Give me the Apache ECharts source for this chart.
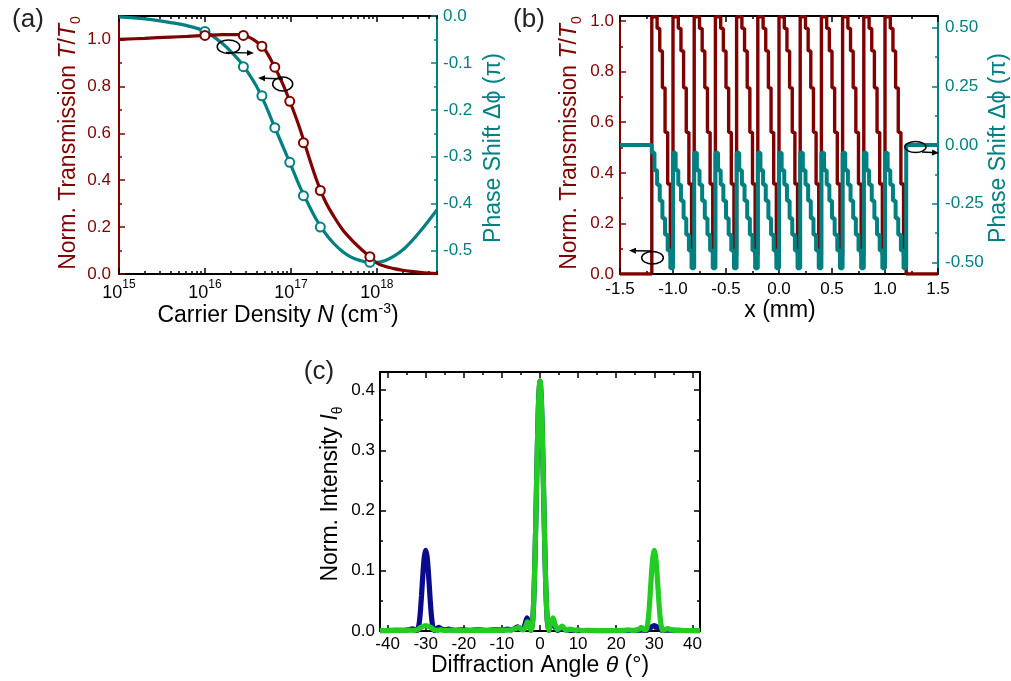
<!DOCTYPE html>
<html><head><meta charset="utf-8">
<script src="https://cdn.jsdelivr.net/npm/echarts@6/dist/echarts.min.js"></script>
<style>html,body{margin:0;padding:0;background:#fff}#c{width:1011px;height:681px}</style>
</head><body><div id="c"></div>
<script>
// ---------- Panel (a) data ----------
const aMarkerN   = [1.0e16, 2.8e16, 4.6e16, 6.5e16, 9.7e16, 1.4e17, 2.2e17, 8.3e17];
const aMarkerT   = [1.017, 1.017, 0.971, 0.882, 0.736, 0.560, 0.356, 0.074];
const aMarkerPhi = [-0.033, -0.108, -0.170, -0.238, -0.312, -0.383, -0.450, -0.525];
const aCurveLogN = [15.0,15.3,15.6,15.8,16.0,16.2,16.4,16.5,16.6,16.7,16.8,16.9,17.0,17.1,17.2,17.3,17.4,17.5,17.6,17.7,17.8,17.9,18.0,18.1,18.2,18.3,18.4,18.5,18.6,18.7];
const aCurveT    = [1.000,1.005,1.010,1.013,1.017,1.021,1.021,1.012,0.990,0.955,0.890,0.815,0.725,0.625,0.510,0.400,0.310,0.245,0.190,0.148,0.112,0.080,0.047,0.032,0.023,0.016,0.011,0.007,0.004,0.002];
const aCurvePhi  = [-0.002,-0.006,-0.014,-0.021,-0.033,-0.058,-0.095,-0.120,-0.150,-0.188,-0.232,-0.275,-0.318,-0.362,-0.400,-0.435,-0.463,-0.485,-0.502,-0.514,-0.521,-0.525,-0.525,-0.521,-0.512,-0.499,-0.481,-0.460,-0.437,-0.413];
const aXMajor = [15, 16, 17, 18];
const aLeftTicks = [0, 0.2, 0.4, 0.6, 0.8, 1.0];
const aLeftMinor = [0.1, 0.3, 0.5, 0.7, 0.9];
const aRightTicks = [-0.5, -0.4, -0.3, -0.2, -0.1, 0];
const aRightMinor = [-0.45, -0.35, -0.25, -0.15, -0.05];

// ---------- Panel (b) data ----------
const bPeriodStarts = [-1.2,-1.0,-0.8,-0.6,-0.4,-0.2,0.0,0.2,0.4,0.6,0.8,1.0];
const bStepWidth = 0.025;          // 8 discrete levels per 0.2 mm period
const bLevelsT = aMarkerT;         // the same 8 carrier-density levels
const bLevelsPhi = aMarkerPhi;
const bGratingEnd = 1.2;
const bXTicks = [-1.5,-1.0,-0.5,0,0.5,1.0,1.5];
const bXMinor = [-1.25,-0.75,-0.25,0.25,0.75,1.25];
const bLeftTicks = [0, 0.2, 0.4, 0.6, 0.8, 1.0];
const bLeftMinor = [0.1, 0.3, 0.5, 0.7, 0.9];
const bRightTicks = [-0.5, -0.25, 0, 0.25, 0.5];
const bRightMinor = [-0.375, -0.125, 0.125, 0.375];

// ---------- Panel (c) data ----------
const cGreen = [[-42,0.0005],[-38,0.001],[-36,0.0008],[-34.5,0.0015],[-33.2,0.001],[-32.3,0.002],[-31.3,0.006],[-30,0.009],[-28.7,0.006],[-27.7,0.002],[-26.8,0.001],[-26,0.002],[-25,0.0008],[-23.5,0.0015],[-21,0.0005],[-18,0.001],[-15,0.0008],[-12,0.001],[-9.5,0.0015],[-7.5,0.002],[-6.3,0.004],[-5.6,0.006],[-5,0.003],[-4.4,0.002],[-3.8,0.007],[-3.3,0.015],[-2.8,0.009],[-2.3,0.0005],[-1.9,0.018],[-1.5,0.078],[-1.1,0.183],[-0.7,0.303],[-0.35,0.384],[0,0.415],[0.35,0.384],[0.7,0.303],[1.1,0.183],[1.5,0.078],[1.9,0.018],[2.3,0.0005],[2.8,0.013],[3.4,0.022],[4.0,0.010],[4.6,0.002],[5.2,0.005],[5.8,0.008],[6.4,0.004],[7.0,0.001],[7.8,0.003],[8.6,0.002],[9.4,0.001],[10.2,0.002],[11,0.0008],[13,0.001],[16,0.0006],[19,0.0008],[22,0.001],[23.2,0.002],[24,0.001],[25,0.001],[26,0.003],[26.6,0.006],[27.2,0.003],[27.7,0.002],[28.1,0.006],[28.5,0.025],[28.9,0.059],[29.3,0.098],[29.65,0.124],[30,0.134],[30.35,0.124],[30.7,0.098],[31.1,0.059],[31.5,0.025],[31.9,0.006],[32.3,0.001],[33,0.003],[33.6,0.004],[34.3,0.002],[35.5,0.001],[38,0.0008],[42,0.0005]];
const cBlue = [[-42,0.0005],[-38,0.001],[-36,0.001],[-34.6,0.002],[-33.5,0.0035],[-32.7,0.002],[-32.3,0.001],[-31.9,0.006],[-31.5,0.025],[-31.1,0.059],[-30.7,0.098],[-30.35,0.124],[-30,0.134],[-29.65,0.124],[-29.3,0.098],[-28.9,0.059],[-28.5,0.025],[-28.1,0.006],[-27.7,0.001],[-27.1,0.004],[-26.5,0.006],[-25.8,0.003],[-24.8,0.002],[-24,0.003],[-22.5,0.001],[-20.5,0.002],[-18.5,0.001],[-16.5,0.002],[-14,0.001],[-12,0.002],[-10,0.0015],[-8.5,0.003],[-7.5,0.002],[-6.6,0.004],[-5.9,0.007],[-5.2,0.004],[-4.6,0.003],[-4.0,0.010],[-3.4,0.022],[-2.8,0.012],[-2.3,0.0005],[-1.9,0.018],[-1.5,0.078],[-1.1,0.183],[-0.7,0.303],[-0.35,0.384],[0,0.415],[0.35,0.384],[0.7,0.303],[1.1,0.183],[1.5,0.078],[1.9,0.018],[2.3,0.0005],[2.8,0.010],[3.4,0.015],[4.0,0.006],[4.6,0.001],[5.6,0.004],[6.5,0.002],[8,0.001],[12,0.0008],[18,0.0006],[24,0.0008],[26.5,0.0015],[27.7,0.001],[28.6,0.003],[29.3,0.007],[30,0.009],[30.7,0.007],[31.4,0.003],[32.3,0.001],[34,0.0015],[38,0.0008],[42,0.0005]];
const cXTicks = [-40,-30,-20,-10,0,10,20,30,40];
const cXMinor = [-35,-25,-15,-5,5,15,25,35];
const cYTicks = [0, 0.1, 0.2, 0.3, 0.4];
const cYMinor = [0.05, 0.15, 0.25, 0.35];

// ---------- styling ----------
const FONT = '"Liberation Sans", Arial, Helvetica, sans-serif';
const RED = '#800000', TEAL = '#008080', BLACK = '#000000';
const BLUE = '#0a0a8c', GREEN = '#22cc22';

const aXMinor = [];
aXMajor.forEach(n => { for (let k = 2; k <= 9; k++) { const v = n + Math.log10(k); if (v <= 18.7) aXMinor.push(v); } });

function pair(gridIndex, position, min, max, major, minor, color, lbl) {
  const common = {type:'value', gridIndex, position, min, max, splitLine:{show:false},
    minorTick:{show:false}, minorSplitLine:{show:false}};
  const maj = Object.assign({}, common, {
    axisLine:{show:true, onZero:false, lineStyle:{color, width:2}},
    axisTick:{show:true, inside:true, length:6, customValues:major, lineStyle:{color, width:1.5}},
    axisLabel: lbl ? Object.assign({show:true, customValues:major, color, fontSize:17, fontFamily:FONT}, lbl) : {show:false}
  });
  const mn = Object.assign({}, common, {
    axisLine:{show:false, onZero:false},
    axisTick:{show:true, inside:true, length:3, customValues:minor, lineStyle:{color, width:1.5}},
    axisLabel:{show:false}
  });
  return [maj, mn];
}
const f1 = v => v.toFixed(1), f2 = v => v.toFixed(2), f0 = v => String(Math.round(v));

const xAxis = [
  ...pair(0,'bottom',15,18.7,aXMajor,aXMinor,BLACK,{margin:5, formatter: v => '{b|10}{s|' + Math.round(v) + '}',
      rich:{b:{fontSize:18, fontFamily:FONT, color:BLACK, lineHeight:23, verticalAlign:'bottom'},
            s:{fontSize:12, fontFamily:FONT, color:BLACK, lineHeight:12, verticalAlign:'top'}}}),
  ...pair(0,'top',15,18.7,aXMajor,aXMinor,BLACK,null),
  ...pair(1,'bottom',-1.5,1.5,bXTicks,bXMinor,BLACK,{margin:7, formatter:f1}),
  ...pair(1,'top',-1.5,1.5,bXTicks,bXMinor,BLACK,null),
  ...pair(2,'bottom',-42,42,cXTicks,cXMinor,BLACK,{margin:5, formatter:f0}),
  ...pair(2,'top',-42,42,cXTicks,cXMinor,BLACK,null)
];
const yAxis = [
  ...pair(0,'left',0,1.1,aLeftTicks,aLeftMinor,RED,{margin:8, formatter:f1}),
  ...pair(0,'right',-0.55,0,aRightTicks,aRightMinor,TEAL,{margin:6, formatter:f1}),
  ...pair(1,'left',0,1.02,bLeftTicks,bLeftMinor,RED,{margin:6, formatter:f1}),
  ...pair(1,'right',-0.55,0.55,bRightTicks,bRightMinor,TEAL,{margin:7, formatter:f2}),
  ...pair(2,'left',0,0.43,cYTicks,cYMinor,BLACK,{margin:5, formatter:f1}),
  ...pair(2,'right',0,0.43,cYTicks,cYMinor,BLACK,null)
];

function grating(levels) {
  const pts = [[-1.5, 0]];
  bPeriodStarts.forEach(s => levels.forEach((v, i) => pts.push([+(s + i * bStepWidth).toFixed(4), v])));
  pts.push([bGratingEnd, 0]);
  pts.push([1.5, 0]);
  return pts;
}
const zip = (xs, ys) => xs.map((x, i) => [x, ys[i]]);

const series = [
  {type:'line', xAxisIndex:0, yAxisIndex:2, data: zip(aCurveLogN, aCurvePhi), smooth:0.35, showSymbol:false,
   lineStyle:{color:TEAL, width:3.2}, z:2},
  {type:'line', xAxisIndex:0, yAxisIndex:0, data: zip(aCurveLogN, aCurveT), smooth:0.35, showSymbol:false,
   lineStyle:{color:RED, width:3.2}, z:3},
  {type:'scatter', xAxisIndex:0, yAxisIndex:2, data: zip(aMarkerN.map(Math.log10), aMarkerPhi), symbol:'circle', symbolSize:9,
   itemStyle:{color:'#ffffff', borderColor:TEAL, borderWidth:2, opacity:1}, emphasis:{disabled:true}, z:4},
  {type:'scatter', xAxisIndex:0, yAxisIndex:0, data: zip(aMarkerN.map(Math.log10), aMarkerT), symbol:'circle', symbolSize:9,
   itemStyle:{color:'#ffffff', borderColor:RED, borderWidth:2, opacity:1}, emphasis:{disabled:true}, z:5},
  {type:'line', xAxisIndex:4, yAxisIndex:4, data: grating(bLevelsT), step:'end', showSymbol:false,
   lineStyle:{color:RED, width:3.4}, z:2},
  {type:'line', xAxisIndex:4, yAxisIndex:6, data: grating(bLevelsPhi), step:'end', showSymbol:false,
   lineStyle:{color:TEAL, width:4}, z:3},
  {type:'line', xAxisIndex:8, yAxisIndex:8, data: cBlue, smooth:0.3, showSymbol:false,
   lineStyle:{color:BLUE, width:5.2}, z:2},
  {type:'line', xAxisIndex:8, yAxisIndex:8, data: cGreen, smooth:0.3, showSymbol:false,
   lineStyle:{color:GREEN, width:5.2}, z:3}
];

function rich(color) {
  return {
    n:{fontSize:23, fontFamily:FONT, fill:color, color, lineHeight:28},
    i:{fontSize:23, fontFamily:FONT, fontStyle:'italic', fill:color, color, lineHeight:28},
    sub:{fontSize:14, fontFamily:FONT, fill:color, color, lineHeight:14, verticalAlign:'bottom'},
    sup:{fontSize:14, fontFamily:FONT, fill:color, color, lineHeight:14, verticalAlign:'top'}
  };
}
function txt(x, y, text, color, rot, size) {
  return {type:'text', x, y, rotation: rot || 0, z:100,
    style:{text, rich: rich(color), fill: color, font: (size || 23) + 'px ' + FONT, textAlign:'center', textVerticalAlign:'middle'}};
}
const V = Math.PI / 2;
const transTitle = '{n|Norm. Transmission }{i|T}{n|/}{i|T}{sub|0}';
const phaseTitle = '{n|Phase Shift Δϕ (π)}';
function ell(cx, cy, rx, ry) { return {type:'ellipse', shape:{cx, cy, rx, ry}, style:{fill:null, stroke:'#000', lineWidth:1.5}, z:100}; }
function arrow(x1, y1, x2, y2) {
  const dx = x2 - x1, dy = y2 - y1, L = Math.hypot(dx, dy), ux = dx / L, uy = dy / L;
  const bx = x2 - ux * 7, by = y2 - uy * 7;
  return [
    {type:'line', shape:{x1, y1, x2: bx, y2: by}, style:{stroke:'#000', lineWidth:1.5}, z:100},
    {type:'polygon', shape:{points:[[x2, y2], [bx - uy * 3, by + ux * 3], [bx + uy * 3, by - ux * 3]]}, style:{fill:'#000'}, z:100}
  ];
}

const graphic = [
  {type:'text', x:28, y:20, z:100, style:{text:'(a)', font:'26px ' + FONT, fill:'#222', textAlign:'center', textVerticalAlign:'middle'}},
  {type:'text', x:529, y:20, z:100, style:{text:'(b)', font:'26px ' + FONT, fill:'#222', textAlign:'center', textVerticalAlign:'middle'}},
  {type:'text', x:319, y:372, z:100, style:{text:'(c)', font:'26px ' + FONT, fill:'#222', textAlign:'center', textVerticalAlign:'middle'}},
  txt(69, 143, transTitle, RED, V),
  txt(494, 148, phaseTitle, TEAL, V),
  txt(278, 316, '{n|Carrier Density }{i|N}{n| (cm}{sup|-3}{n|)}', BLACK),
  txt(570, 143, transTitle, RED, V),
  txt(999, 148, phaseTitle, TEAL, V),
  txt(780, 311, '{n|x (mm)}', BLACK),
  txt(331, 494, '{n|Norm. Intensity }{i|I}{sub|θ}', BLACK, V),
  txt(540, 666, '{n|Diffraction Angle }{i|θ}{n| (°)}', BLACK),
  ell(228.5, 46.7, 11.3, 6.7), ...arrow(226, 52.5, 254, 53),
  ell(282.7, 84, 10, 7), ...arrow(283, 79, 258, 78),
  ell(652.5, 257.8, 10.8, 6.2), ...arrow(652, 251, 629, 250.5),
  ell(915.5, 147, 10.5, 5.5), ...arrow(922, 152, 939, 153)
];

const chart = echarts.init(document.getElementById('c'), null, {renderer:'canvas'});
chart.setOption({
  animation:false,
  backgroundColor:'#ffffff',
  textStyle:{fontFamily:FONT},
  grid:[
    {left:119, top:16, width:318, height:258, containLabel:false, outerBoundsMode:'none'},
    {left:620, top:16, width:318, height:258, containLabel:false, outerBoundsMode:'none'},
    {left:380, top:372, width:320, height:259, containLabel:false, outerBoundsMode:'none'}
  ],
  xAxis, yAxis, series, graphic
});
</script></body></html>
